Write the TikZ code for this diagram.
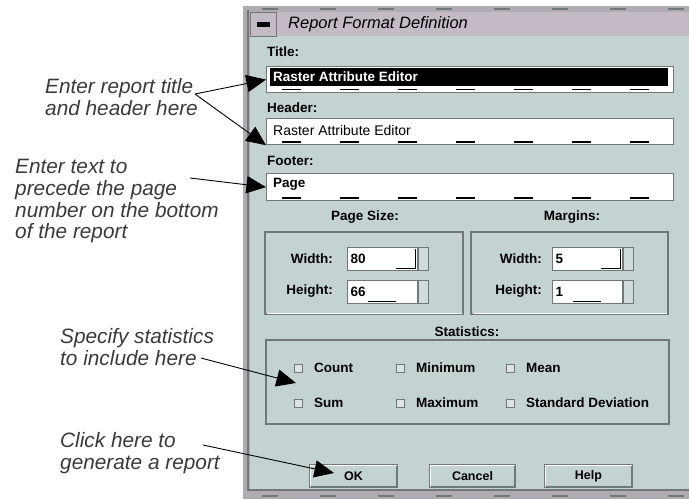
\documentclass[tikz,border=0pt]{standalone}
\usepackage{fontspec}
\setmainfont{Liberation Sans}
\usetikzlibrary{arrows.meta}

\definecolor{dlgbody}{RGB}{196,210,210}
\definecolor{dlgbar}{RGB}{196,186,198}
\definecolor{dlgframe}{RGB}{176,170,178}
\definecolor{dlgshade}{RGB}{112,120,120}
\definecolor{notegray}{RGB}{58,58,58}

\tikzset{
  note/.style={font=\fontsize{20.8}{21.8}\selectfont\itshape, text=notegray, align=left, inner sep=0pt, anchor=north west},
  lbl/.style={font=\fontsize{13.5}{15}\selectfont\bfseries, inner sep=0pt},
  field/.style={draw=dlgshade, fill=white, line width=1.2pt, minimum width=407pt, minimum height=26pt, inner sep=0pt, anchor=north west},
  fielddash/.style={line width=1.6pt, dash pattern=on 19pt off 39pt},
  spinfield/.style={draw=dlgshade, fill=white, line width=1pt, minimum width=70pt, minimum height=23pt, inner sep=0pt},
  spinner/.style={draw=dlgshade, fill=dlgbody!80!white, minimum width=10pt, minimum height=23pt, inner sep=0pt},
  grp/.style={draw=dlgshade, line width=1.3pt},
  chk/.style={draw=dlgshade, fill=dlgbody!60!white, minimum size=8pt, inner sep=0pt},
  btn/.style={draw=dlgshade, fill=dlgbody, line width=1.2pt, minimum height=22pt, inner sep=0pt, font=\fontsize{12.5}{14}\selectfont\bfseries},
  callout/.style={-{Triangle[scale length=3.8, scale width=2.9]}, line width=0.9pt}
}

\begin{document}
\begin{tikzpicture}[x=1pt, y=-1pt]
  \useasboundingbox (0,0) rectangle (689,499);

  % Window frame and body
  \fill[dlgframe] (243,6) rectangle (689,499);
  \draw[dlgshade, line width=1.5pt, dash pattern=on 16pt off 42pt] (262,9) -- (689,9);
  \draw[dlgshade, line width=1.5pt, dash pattern=on 16pt off 42pt] (262,496) -- (689,496);
  \fill[dlgbody] (250,36) rectangle (689,489);
  \draw[dlgshade, line width=1.5pt] (248,10) -- (248,490) -- (689,490);

  % Title bar
  \fill[dlgbar] (250,12) rectangle (689,36);
  \draw[dlgshade] (250,12) rectangle (276,36);
  \fill (257,22) rectangle (270,26.5);
  \node[font=\fontsize{16.5}{18}\selectfont\itshape, anchor=west, inner sep=0pt] (dlgtitle) at (288,24) {Report Format Definition};

  % Title, header and footer fields
  \node[lbl, anchor=west] (titlelbl) at (267,52) {Title:};
  \node[field] (titlefield) at (266,66) {};
  \fill (270,68) rectangle (668,86);
  \draw[fielddash] (282,89.5) -- (668,89.5);
  \node[lbl, anchor=west, text=white] (titletext) at (273,77) {Raster Attribute Editor};

  \node[lbl, anchor=west] (headerlbl) at (267,108) {Header:};
  \node[field] (headerfield) at (266,118) {};
  \draw[fielddash] (282,142) -- (668,142);
  \node[font=\fontsize{14}{15}\selectfont, anchor=west, inner sep=0pt] (headertext) at (273,130) {Raster Attribute Editor};

  \node[lbl, anchor=west] (footerlbl) at (267,161) {Footer:};
  \node[field, minimum height=27pt] (footerfield) at (266,173) {};
  \draw[fielddash] (282,198) -- (668,198);
  \node[lbl, anchor=west] (footertext) at (273,184) {Page};

  % Page size and margins
  \node[lbl] (pagesizelbl) at (365,217) {Page Size:};
  \node[lbl] (marginslbl) at (572,217) {Margins:};
  \draw[grp] (265,232) rectangle (463,314);
  \draw[grp] (471,232) rectangle (668,314);
  \draw[white, line width=1pt] (267,313) -- (462,313) (473,313) -- (667,313);

  \foreach \gx/\fx/\nm/\wv/\hv in {333/382/page/80/66, 542/587/marg/5/1} {
    \node[lbl, anchor=east] at (\gx,259) {Width:};
    \node[lbl, anchor=east] at (\gx,291) {Height:};
    \node[spinfield] (\nm w) at (\fx,258.5) {};
    \node[spinfield] (\nm h) at (\fx,291.5) {};
    \node[spinner, anchor=west] at (\nm w.east) {};
    \node[spinner, anchor=west] at (\nm h.east) {};
    \draw[line width=1.5pt] ([xshift=-22pt,yshift=2pt]\nm w.south east) -| ([xshift=-2pt,yshift=-2pt]\nm w.north east);
    \draw[line width=1.5pt] ([xshift=-14pt,yshift=2pt]\nm h.south) -- ([xshift=14pt,yshift=2pt]\nm h.south);
    \node[lbl, anchor=west] at ([xshift=4pt]\nm w.west) {\wv};
    \node[lbl, anchor=west] at ([xshift=4pt]\nm h.west) {\hv};
  }

  % Statistics
  \node[lbl] (statslbl) at (467,332) {Statistics:};
  \draw[grp] (266,340) rectangle (669,424);
  \foreach \cx/\cy/\txt/\nm in {298/368/Count/count, 400/368/Minimum/min, 510/368/Mean/mean,
                                298/403/Sum/sum, 400/403/Maximum/max, 510/403/Standard Deviation/std} {
    \node[chk] (cb\nm) at (\cx,\cy) {};
    \node[lbl, anchor=west] at (\cx+16,\cy) {\txt};
  }

  % Buttons
  \node[btn, minimum width=87pt] (okbtn) at (353.5,476) {OK};
  \node[btn, minimum width=85pt] (cancelbtn) at (472.5,476) {Cancel};
  \node[btn, minimum width=87pt] (helpbtn) at (588.5,476) {Help};
  \foreach \b in {okbtn, cancelbtn, helpbtn}
    \draw[white, line width=1.2pt] ([shift={(1pt,1pt)}]\b.south west) |- ([shift={(-1pt,-1pt)}]\b.north east);

  % Callouts
  \node[note] (titlenote) at (45,78) {Enter report title\\and header here};
  \node[note] (footernote) at (15,159) {Enter text to\\precede the page\\number on the bottom\\of the report};
  \node[note] (statsnote) at (60,328) {Specify statistics\\to include here};
  \node[note] (oknote) at (60,432) {Click here to\\generate a report};

  \coordinate (titlefork) at (195,94);
  \coordinate (footerstart) at (190,178);
  \coordinate (statsstart) at (201,358);
  \coordinate (okstart) at (203,445);
  \coordinate (statstip) at (296,383);
  \coordinate (oktip) at (334,473);

  \draw[callout] (titlefork) -- (titlefield.west);
  \draw[callout] (titlefork) -- (headerfield.south west);
  \draw[callout] (footerstart) -- (footerfield.west);
  \draw[callout] (statsstart) -- (statstip);
  \draw[callout] (okstart) -- (oktip);
\end{tikzpicture}
\end{document}
